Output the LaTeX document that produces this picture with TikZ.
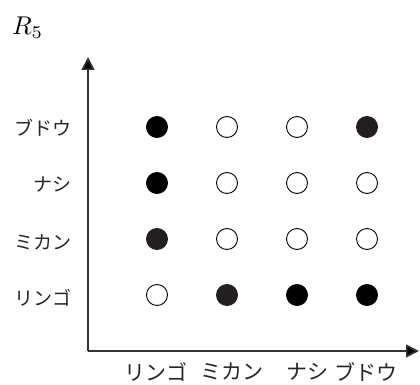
\documentclass[tikz,border=0pt]{standalone}
\usepackage{fontspec}
\newfontfamily\jp{Noto Sans CJK JP}
\usetikzlibrary{arrows.meta}
\definecolor{darkdot}{HTML}{231F20}
\tikzset{
  dot/.style={circle, draw=black, line width=0.9pt, minimum size=21pt, inner sep=0pt},
  full/.style={dot, fill=black},
  dark/.style={dot, fill=darkdot, draw=darkdot},
  empty/.style={dot, fill=white},
  ylab/.style={font=\jp\fontsize{19}{19}\selectfont, inner sep=0pt, text=black!85},
  xlab/.style={font=\jp\fontsize{21}{21}\selectfont, inner sep=0pt, text=black!85},
  axis/.style={line width=1.7pt, draw=black!80, -{Triangle[length=13pt,width=13pt,fill=black]}}
}
\begin{document}
\begin{tikzpicture}[x=1pt,y=-1pt]
\useasboundingbox (0,0) rectangle (420,385);
\node[inner sep=0pt, anchor=west] (title) at (12,28) {\resizebox{31pt}{!}{$R_5$}};
\coordinate (o) at (88,351);
\coordinate (ytop) at (88,57);
\coordinate (xend) at (419,351);
\draw[axis] (o) -- (ytop);
\draw[axis] (o) -- (xend);
% y labels
\node[ylab, anchor=east] (y1) at (72,128) {ブドウ};
\node[ylab, anchor=east] (y2) at (72,185) {ナシ};
\node[ylab, anchor=east] (y3) at (72,242) {ミカン};
\node[ylab, anchor=east] (y4) at (72,298) {リンゴ};
% x labels
\node[xlab] (x1) at (156,372) {リンゴ};
\node[xlab] (x2) at (232,372) {ミカン};
\node[xlab] (x3) at (307,372) {ナシ};
\node[xlab] (x4) at (366,372) {ブドウ};
% dots row ブドウ
\node[full]  (d11) at (157,127) {};
\node[empty] (d12) at (227,127) {};
\node[empty] (d13) at (297,127) {};
\node[dark]  (d14) at (367,127) {};
% row ナシ
\node[full]  (d21) at (157,183) {};
\node[empty] (d22) at (227,183) {};
\node[empty] (d23) at (297,183) {};
\node[empty] (d24) at (367,183) {};
% row ミカン
\node[dark]  (d31) at (157,239) {};
\node[empty] (d32) at (227,239) {};
\node[empty] (d33) at (297,239) {};
\node[empty] (d34) at (367,239) {};
% row リンゴ
\node[empty] (d41) at (157,295) {};
\node[dark]  (d42) at (227,295) {};
\node[full]  (d43) at (297,295) {};
\node[full]  (d44) at (367,295) {};
\end{tikzpicture}
\end{document}
